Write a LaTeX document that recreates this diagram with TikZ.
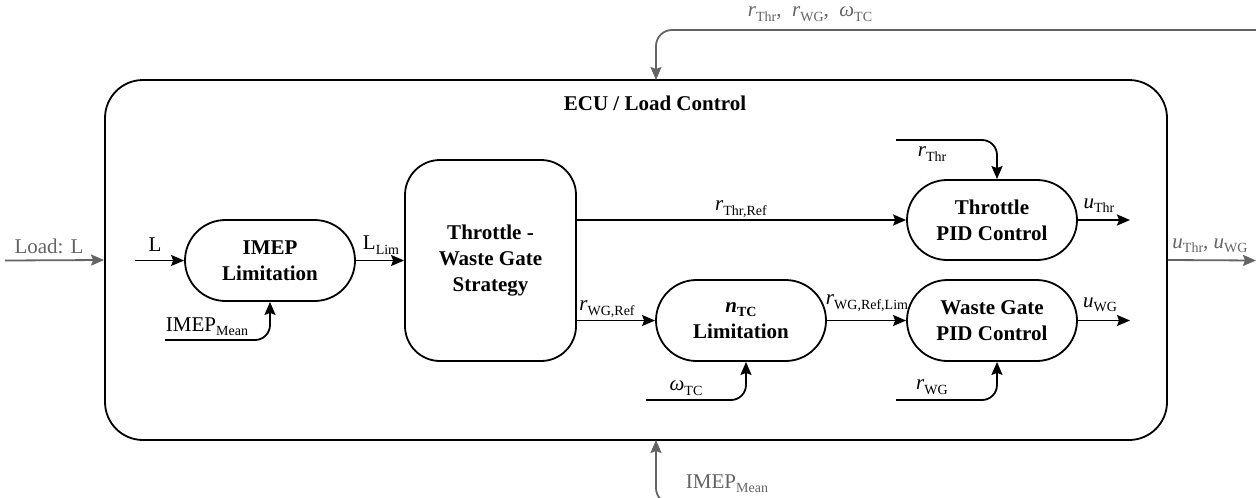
\documentclass[tikz,border=0pt]{standalone}
\usepackage{fontspec}
\setmainfont{Liberation Serif}
\usetikzlibrary{arrows.meta,shapes.misc,calc}
\definecolor{gr}{RGB}{100,100,100}
\newcommand{\sbs}[1]{\raisebox{-0.45ex}{\fontsize{14}{14}\selectfont #1}}
\begin{document}
\begin{tikzpicture}[x=1pt,y=-1pt,
  line/.style={line width=1.8pt},
  arr/.style={line, -{Stealth[length=13pt,width=11pt,inset=2pt]}},
  garr/.style={arr, draw=gr},
  blk/.style={draw, line width=1.8pt, rounded rectangle, minimum width=170pt, minimum height=81pt,
    font=\fontsize{21}{26}\selectfont\bfseries, align=center, inner sep=0pt},
  lbl/.style={font=\fontsize{21}{24}\selectfont, inner sep=0pt},
  glbl/.style={lbl, text=gr}]
\useasboundingbox (0,0) rectangle (1256,498);
\clip (0,0) rectangle (1256,498);

% outer ECU box
\node[draw, line width=1.8pt, rounded corners=38pt, minimum width=1062pt, minimum height=360pt, inner sep=0pt] (ecu) at (636,260) {};
\node[font=\fontsize{21}{24}\selectfont\bfseries, inner sep=0pt] (ecut) at (655,103) {ECU / Load Control};

% blocks
\node[blk] (imep) at (270,260.5) {IMEP\\Limitation};
\node[draw, line width=1.8pt, rounded corners=35pt, minimum width=171pt, minimum height=201pt,
  font=\fontsize{21}{26}\selectfont\bfseries, align=center, inner sep=0pt] (strat) at (490.5,260.5) {Throttle -\\Waste Gate\\Strategy};
\node[blk, minimum height=80pt] (thr) at (992,220) {Throttle\\PID Control};
\node[blk] (ntc) at (741,320.5) {{\itshape n}\sbs{\bfseries TC}\\Limitation};
\node[blk] (wg) at (992,320.5) {Waste Gate\\PID Control};

% free ends
\coordinate (lin) at (135,260.5);
\coordinate (imepin) at (165,340);
\coordinate (rthrin) at (896,140);
\coordinate (omin) at (646,400);
\coordinate (rwgin) at (896,400);
\coordinate (uthr) at (1130,220);
\coordinate (uwg) at (1130,320.5);
\coordinate (loadin) at (5,260.5);
\coordinate (outend) at (1256,260.5);
\coordinate (topstart) at (1262,30);
\coordinate (topin) at (656,80);
\coordinate (botstart) at (700,504);
\coordinate (botin) at (656,440);

% black connectors
\draw[arr] (lin) -- (imep.west);
\draw[arr] (imep.east) -- (strat.west |- imep.east);
\draw[arr, rounded corners=15pt] (imepin) -| (imep.south);
\draw[arr] (strat.east |- thr.west) -- (thr.west);
\draw[arr] (strat.east |- ntc.west) -- (ntc.west);
\draw[arr] (ntc.east) -- (wg.west);
\draw[arr, rounded corners=15pt] (rthrin) -| ($(thr.north)+(5,0)$);
\draw[arr, rounded corners=15pt] (omin) -| ($(ntc.south)+(5,0)$);
\draw[arr, rounded corners=15pt] (rwgin) -| ($(wg.south)+(5,0)$);
\draw[arr] (thr.east) -- (uthr);
\draw[arr] (wg.east) -- (uwg);

% gray connectors
\draw[garr] (loadin) -- (ecu.west);
\draw[garr] (ecu.east) -- (outend);
\draw[garr, rounded corners=16pt] (topstart) -| (topin);
\draw[garr, rounded corners=16pt] (botstart) -| (botin);

% labels
\node[lbl] (tL) at (155,245) {L};
\node[lbl] (tLlim) at (381,245) {L\sbs{Lim}};
\node[lbl] (timep) at (207,327) {IMEP\sbs{Mean}};
\node[lbl] (trthrref) at (741,209) {\textit{r}\sbs{Thr,Ref}};
\node[lbl] (trthr) at (932,154) {\textit{r}\sbs{Thr}};
\node[lbl] (tuthr) at (1099,206) {\textit{u}\sbs{Thr}};
\node[lbl] (trwgref) at (607,309) {\textit{r}\sbs{WG,Ref}};
\node[lbl] (trwgreflim) at (867,303) {\textit{r}\sbs{WG,Ref,Lim}};
\node[lbl] (tuwg) at (1100,305) {\textit{u}\sbs{WG}};
\node[lbl] (tom) at (686,388) {\textit{ω}\sbs{TC}};
\node[lbl] (trwg) at (932,387) {\textit{r}\sbs{WG}};
\node[glbl] (tload) at (49,246) {Load: L};
\node[glbl] (tuout) at (1210,246) {\textit{u}\sbs{Thr}, \textit{u}\sbs{WG}};
\node[glbl] (ttop) at (810,14) {\textit{r}\sbs{Thr},\ \ \textit{r}\sbs{WG},\ \ \textit{ω}\sbs{TC}};
\node[glbl] (tbot) at (727,484) {IMEP\sbs{Mean}};
\end{tikzpicture}
\end{document}
